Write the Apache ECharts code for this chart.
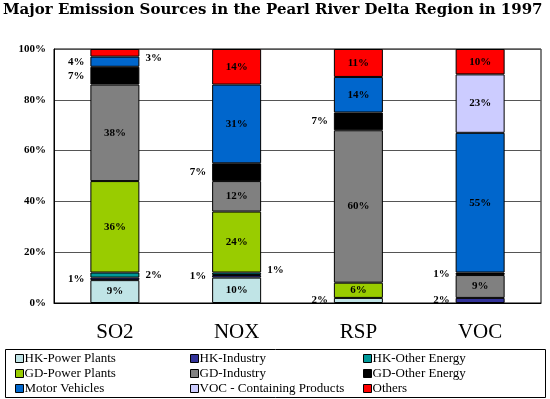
<!DOCTYPE html>
<html>
<head>
<meta charset="utf-8">
<script src="https://cdn.jsdelivr.net/npm/echarts@6/dist/echarts.min.js"></script>
<style>
  html, body { margin: 0; padding: 0; background: #fff; }
  #chart { width: 550px; height: 399px; }
</style>
</head>
<body>
<div id="chart"></div>
<script>
// data (percent of each pollutant)
var categories = ["SO2", "NOX", "RSP", "VOC"];
var hkPower = [9, 10, 2, 0];
var hkIndustry = [1, 1, 0, 2];
var hkOther = [2, 1, 0, 0];
var gdPower = [36, 24, 6, 0];
var gdIndustry = [38, 12, 60, 9];
var gdOther = [7, 7, 7, 1];
var motor = [4, 31, 14, 55];
var vocProducts = [0, 0, 0, 23];
var others = [3, 14, 11, 10];
var yTicks = [0, 20, 40, 60, 80, 100];

// series order = stacking order, bottom to top
var seriesDefs = [
  { name: "HK-Power Plants", values: hkPower, color: "#c0e4e6" },
  { name: "HK-Industry", values: hkIndustry, color: "#333399" },
  { name: "HK-Other Energy", values: hkOther, color: "#009999" },
  { name: "GD-Power Plants", values: gdPower, color: "#99cc00" },
  { name: "GD-Industry", values: gdIndustry, color: "#808080" },
  { name: "GD-Other Energy", values: gdOther, color: "#000000" },
  { name: "Motor Vehicles", values: motor, color: "#0066cc" },
  { name: "VOC - Containing Products", values: vocProducts, color: "#ccccff" },
  { name: "Others", values: others, color: "#ff0000" }
];

// which small segments get their label outside the bar
var outsideLabels = {
  "HK-Power Plants": [null, null, "left", null],
  "HK-Industry": ["left", "left", null, "left"],
  "HK-Other Energy": ["right", "right", null, null],
  "GD-Other Energy": ["left", "left", "left", "left"],
  "Motor Vehicles": ["left", null, null, null],
  "Others": ["right", null, null, null]
};

var labelFont = {
  fontFamily: "Liberation Serif",
  fontWeight: "bold",
  fontSize: 11,
  color: "#000"
};

var series = seriesDefs.map(function (s) {
  var side = outsideLabels[s.name] || [];
  return {
    name: s.name,
    type: "bar",
    stack: "total",
    barWidth: 49,
    itemStyle: { color: s.color, borderColor: "#000", borderWidth: 1 },
    label: Object.assign({ show: true, position: "inside", formatter: "{c}%" }, labelFont),
    data: s.values.map(function (v, i) {
      if (!v) return null;
      var d = { value: v };
      if (side[i]) {
        d.label = { position: side[i], distance: 6 };
        if (s.name === "Others") d.label.offset = [0, 5];
        if (s.name === "HK-Other Energy" && i === 1) d.label.offset = [0, -4];
      }
      return d;
    })
  };
});

var legendFont = {
  fontFamily: "Liberation Serif",
  fontSize: 13,
  color: "#000",
  lineHeight: 15,
  padding: [0, 0, 0, -4]
};
function legendCol(names, left) {
  return {
    orient: "vertical",
    left: left,
    top: 351,
    padding: 0,
    itemWidth: 8,
    itemHeight: 8,
    itemGap: 0,
    icon: "rect",
    selectedMode: false,
    textStyle: legendFont,
    itemStyle: { borderColor: "#000", borderWidth: 1 },
    data: names
  };
}

var myChart = echarts.init(document.getElementById("chart"));
myChart.setOption({
  animation: false,
  title: {
    text: "Major Emission Sources in the Pearl River Delta Region in 1997",
    left: 1,
    top: 1,
    padding: [2, 2],
    textStyle: {
      fontFamily: "DejaVu Serif",
      fontWeight: "bold",
      fontSize: 15,
      color: "#000"
    }
  },
  legend: [
    legendCol(["HK-Power Plants", "GD-Power Plants", "Motor Vehicles"], 15),
    legendCol(["HK-Industry", "GD-Industry", "VOC - Containing Products"], 190),
    legendCol(["HK-Other Energy", "GD-Other Energy", "Others"], 363)
  ],
  graphic: [
    {
      type: "rect",
      shape: { x: 5.5, y: 349.5, width: 540, height: 48 },
      style: { fill: "none", stroke: "#000", lineWidth: 1 },
      silent: true
    }
  ],
  grid: {
    left: 54,
    right: 9,
    top: 49,
    bottom: 96,
    show: true,
    borderColor: "#000",
    borderWidth: 1
  },
  xAxis: {
    type: "category",
    data: categories,
    axisLine: { lineStyle: { color: "#000", width: 1 } },
    axisTick: { inside: true, length: 5, lineStyle: { color: "#000" } },
    axisLabel: {
      margin: 19,
      fontFamily: "Liberation Serif",
      fontSize: 21,
      color: "#000"
    }
  },
  yAxis: {
    type: "value",
    min: yTicks[0],
    max: yTicks[yTicks.length - 1],
    interval: yTicks[1] - yTicks[0],
    axisLine: { show: true, lineStyle: { color: "#000" } },
    axisTick: { show: false },
    splitLine: { lineStyle: { color: "#555", width: 1 } },
    axisLabel: {
      formatter: "{value}%",
      margin: 8,
      fontFamily: "Liberation Serif",
      fontWeight: "bold",
      fontSize: 11,
      color: "#000"
    }
  },
  series: series
});
</script>
</body>
</html>
